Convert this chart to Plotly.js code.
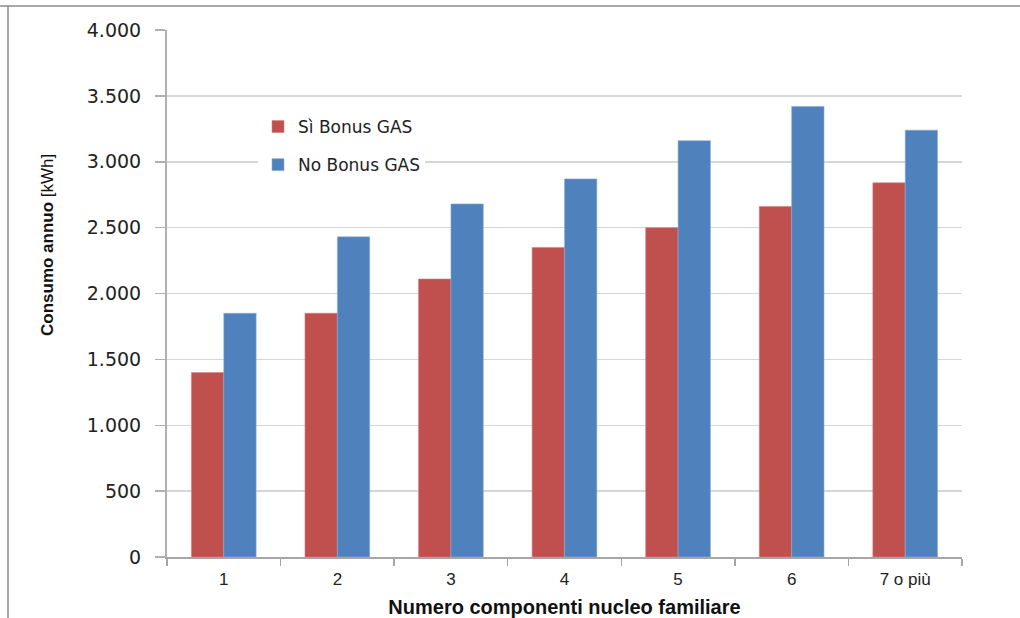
<!DOCTYPE html>
<html>
<head>
<meta charset="utf-8">
<script src="https://cdn.plot.ly/plotly-3.0.1.min.js"></script>
<style>html,body{margin:0;padding:0;background:#fff;}#chart{width:1020px;height:618px;}</style>
</head>
<body>
<div id="chart"></div>
<script>
const categories = ["1", "2", "3", "4", "5", "6", "7 o più"];
const siBonus = [1400, 1850, 2110, 2350, 2500, 2660, 2840];
const noBonus = [1850, 2430, 2680, 2870, 3160, 3420, 3240];
const yTickVals = [0, 500, 1000, 1500, 2000, 2500, 3000, 3500, 4000];
const yTickText = ["0", "500", "1.000", "1.500", "2.000", "2.500", "3.000", "3.500", "4.000"];

const L = 167, R = 58, T = 30, B = 61;
const W = 1020 - L - R, H = 618 - T - B;
const px = x => (x - L) / W;
const py = y => (618 - B - y) / H;

const traces = [
  {type: "bar", name: "Sì Bonus GAS", x: categories, y: siBonus, legendgroup: "a",
   marker: {color: "#C0504D", line: {color: "#d27f7c", width: 0.6}}},
  {type: "bar", name: "No Bonus GAS", x: categories, y: noBonus, legendgroup: "b",
   marker: {color: "#4F81BD", line: {color: "#8fb0d8", width: 0.6}}}
];

const layout = {
  width: 1020, height: 618,
  margin: {l: L, r: R, t: T, b: B},
  paper_bgcolor: "#fff", plot_bgcolor: "#fff",
  barmode: "group", bargap: 0.43, bargroupgap: 0,
  showlegend: true,
  legend: {x: px(258), y: py(109), xanchor: "left", yanchor: "top",
           bgcolor: "#fff", font: {family: "DejaVu Sans", size: 17, color: "#222"},
           traceorder: "grouped", tracegroupgap: 13, itemwidth: 30},
  xaxis: {type: "category", showline: true, linecolor: "#a6a6a6", linewidth: 1.5,
          ticks: "outside", tickson: "boundaries", ticklen: 7, tickcolor: "#a6a6a6", tickwidth: 1.5,
          ticklabelstandoff: 6,
          tickfont: {family: "Liberation Sans", size: 17, color: "#222"},
          showgrid: false, zeroline: false,
          title: {text: "Numero componenti nucleo familiare", standoff: 14,
                  font: {family: "Liberation Sans", size: 20, color: "#111", weight: "bold"}}},
  yaxis: {range: [0, 4000], tickvals: yTickVals, ticktext: yTickText,
          showline: true, linecolor: "#b0b0b0", linewidth: 2,
          ticks: "outside", ticklen: 10, tickcolor: "#b0b0b0", tickwidth: 1.5,
          ticklabelstandoff: 10,
          showgrid: true, gridcolor: "#d6d6d6", gridwidth: 1.5, zeroline: false,
          tickfont: {family: "DejaVu Sans", size: 19, color: "#222"}},
  annotations: [
    {xref: "paper", yref: "paper", x: px(47), y: py(245), textangle: -90,
     showarrow: false, xanchor: "center", yanchor: "middle",
     text: "<b>Consumo annuo</b> [kWh]",
     font: {family: "Liberation Sans Narrow, Liberation Sans", size: 17, color: "#111"}}
  ],
  shapes: [
    {type: "line", xref: "paper", yref: "paper", x0: px(0), x1: px(1020), y0: py(6), y1: py(6),
     line: {color: "#8a8a8a", width: 1.5}},
    {type: "line", xref: "paper", yref: "paper", x0: px(8), x1: px(8), y0: py(6), y1: py(620),
     line: {color: "#8a8a8a", width: 1.5}}
  ]
};

Plotly.newPlot("chart", traces, layout, {displayModeBar: false, staticPlot: true});
</script>
</body>
</html>
